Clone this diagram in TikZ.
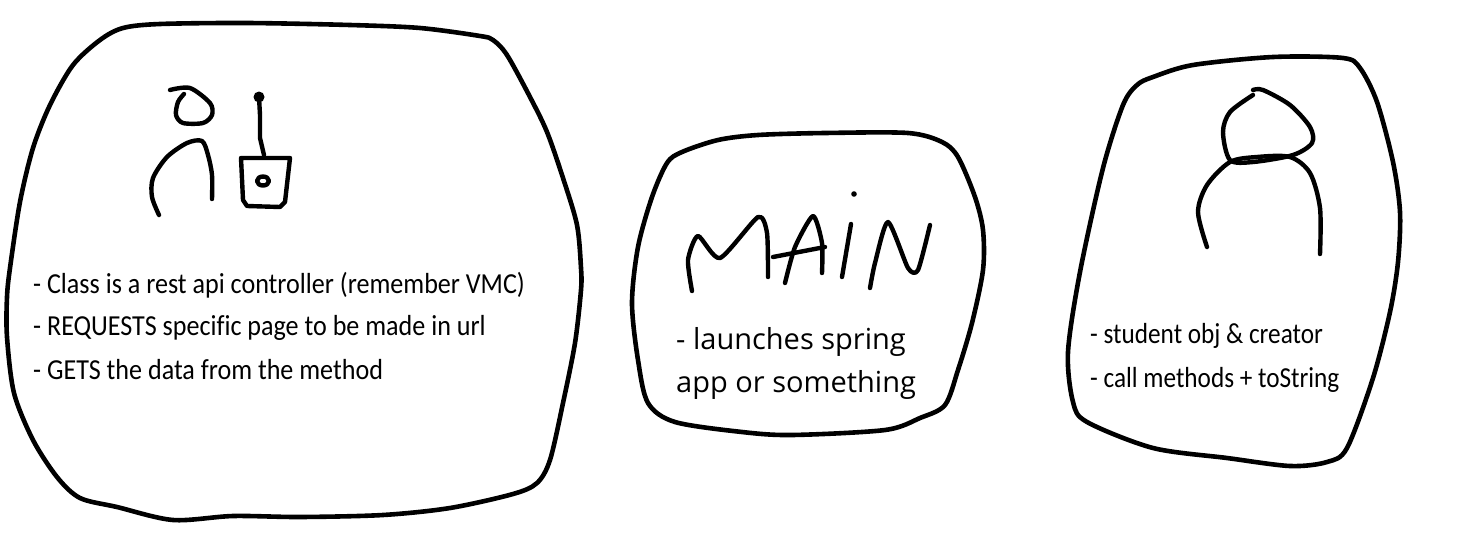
\documentclass[tikz,border=0pt]{standalone}
\usepackage{fontspec}
\newfontfamily\leftface[FakeStretch=0.9,Ligatures=NoCommon]{Carlito}
\newfontfamily\sideface[FakeStretch=0.87,Ligatures=NoCommon]{Carlito}
\newfontfamily\wideface{Open Sans}
\tikzset{
  ink/.style={draw=black,line width=4.6pt,line cap=round,line join=round},
  thin ink/.style={draw=black,line width=4.4pt,line cap=round,line join=round},
  small note/.style={anchor=west,inner sep=0pt,font=\leftface\fontsize{29}{29}\selectfont},
  side note/.style={anchor=west,inner sep=0pt,font=\sideface\fontsize{29}{29}\selectfont},
  big note/.style={anchor=west,inner sep=0pt,font=\wideface\fontsize{29}{30}\selectfont}
}
\begin{document}
\begin{tikzpicture}[x=1pt,y=-1pt]
\useasboundingbox (0,0) rectangle (1459,557);
% left blob
\draw[ink] plot[smooth cycle,tension=0.5] coordinates {(100,40) (123,28) (160,24) (247,23) (350,25) (420,28) (480,36) (493,40) (507,55) (530,97) (547,132) (563,178) (577,225) (581,268) (581,290) (575,343) (563,403) (550,460) (537,483) (513,494) (450,508) (383,515) (300,517) (233,516) (173,520) (117,507) (80,498) (57,477) (33,440) (14,393) (7,337) (7,297) (10,268) (20,202) (33,148) (50,105) (73,65)};
% person and computer
\draw[thin ink] plot[smooth,tension=0.5] coordinates {(170,90) (190,88) (210,103) (212,115) (203,123) (183,123) (176,115) (178,102) (184,94)};
\draw[thin ink] plot[smooth,tension=0.5] coordinates {(159,215) (152,197) (153,178) (167,157) (187,143) (202,141) (208,155) (212,175) (212,199)};
\coordinate (tip) at (259,97);
\coordinate (foot) at (264,155);
\draw[thin ink] (tip) -- (260,115) -- (260,138) -- (foot);
\fill (tip) circle (5.5pt);
\draw[thin ink] (241,158) -- (290,158) -- (285,202) -- (280,207) -- (247,206) -- (243,200) -- cycle;
\draw[thin ink] (263,181) ellipse (6pt and 4.5pt);
\node[small note] (l1) at (33,285) {- Class is a rest api controller (remember VMC)};
\node[small note] (l2) at (33,328) {- REQUESTS specific page to be made in url};
\node[small note] (l3) at (33,370) {- GETS the data from the method};
% middle blob
\draw[ink] plot[smooth cycle,tension=0.5] coordinates {(718,140) (758,135) (825,133) (908,133) (942,142) (958,157) (975,197) (983,230) (983,270) (972,323) (958,370) (945,405) (920,418) (885,430) (792,435) (742,432) (675,422) (648,403) (638,360) (632,303) (638,247) (652,197) (667,163) (682,152)};
\draw[thin ink] plot[smooth,tension=0.4] coordinates {(692,291) (688,260) (698,236) (720,258) (758,217) (767,233) (768,277)};
\draw[thin ink] plot[smooth,tension=0.4] coordinates {(785,283) (795,247) (813,216) (822,243) (822,273)};
\draw[thin ink] (773,257) -- (825,247);
\draw[thin ink] (851,224) -- (842,277);
\draw[thin ink] plot[smooth,tension=0.4] coordinates {(870,288) (875,263) (888,222) (908,268) (918,270) (930,225)};
\fill (854,194) circle (2.8pt);
\node[big note] (m1) at (676,342) {- launches spring};
\node[big note] (m2) at (676,385) {app or something};
% right blob
\draw[ink] plot[smooth cycle,tension=0.5] coordinates {(1153,77) (1193,65) (1273,57) (1343,58) (1360,68) (1377,102) (1393,162) (1400,212) (1398,262) (1390,312) (1373,378) (1347,448) (1327,462) (1290,466) (1227,458) (1153,448) (1087,422) (1073,402) (1068,352) (1080,272) (1103,168) (1123,105) (1137,85)};
\draw[thin ink] plot[smooth,tension=0.5] coordinates {(1253,95) (1230,112) (1223,132) (1230,160) (1253,162) (1293,155) (1312,143) (1310,127) (1290,105) (1263,90) (1253,90)};
\draw[thin ink] plot[smooth,tension=0.5] coordinates {(1207,247) (1198,212) (1207,185) (1230,162) (1257,157) (1290,157) (1310,173) (1320,208) (1320,254)};
\node[side note] (r1) at (1090,336) {- student obj \& creator};
\node[side note] (r2) at (1090,380) {- call methods + toString};
\end{tikzpicture}
\end{document}
